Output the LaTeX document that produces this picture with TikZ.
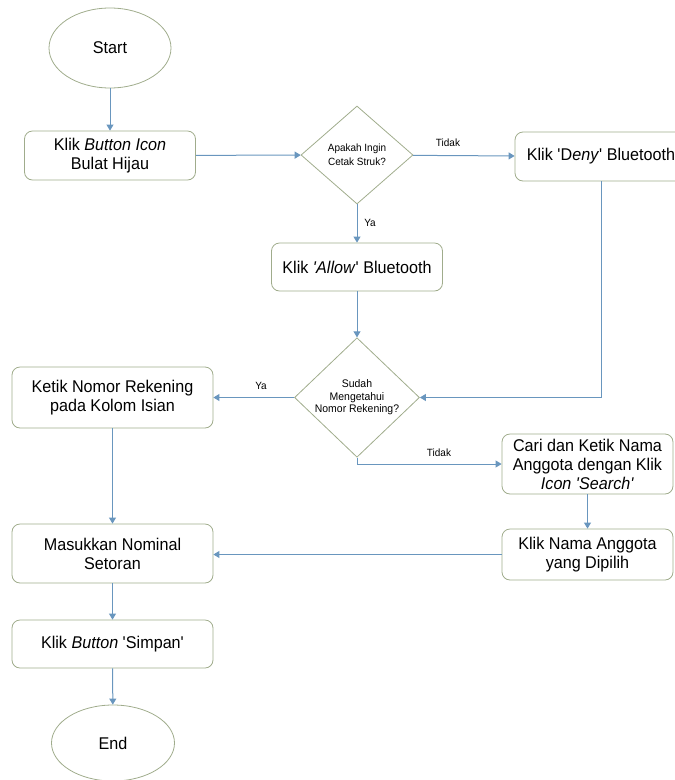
\documentclass[tikz,border=0pt]{standalone}
\usepackage{fontspec}
\setmainfont{Liberation Sans}[FakeStretch=0.95]
\usetikzlibrary{shapes.geometric,arrows.meta}
\definecolor{edge}{RGB}{160,172,140}
\definecolor{flow}{RGB}{105,150,190}
\newcommand\sq{\textquotesingle}
\begin{document}
\begin{tikzpicture}[x=1pt,y=-1pt,
    box/.style={draw=edge,line width=0.8pt,rounded corners=8pt,align=center,inner sep=0pt,
      font=\fontsize{17}{19}\selectfont},
    term/.style={draw=edge,line width=0.8pt,ellipse,inner sep=0pt,font=\fontsize{17}{19}\selectfont},
    decision/.style={draw=edge,line width=0.8pt,diamond,inner sep=0pt,align=center,
      font=\fontsize{10.5}{14}\selectfont},
    lbl/.style={font=\fontsize{10.5}{12}\selectfont},
    flowline/.style={draw=flow,line width=1pt,-{Triangle[length=6pt,width=7pt]}}]
      \useasboundingbox (0,0) rectangle (675,780);
      \clip (0,0) rectangle (675,780);
      \draw
        (110,48) node[term,minimum width=122pt,minimum height=80pt] (start){Start}
        (110,155.5) node[box,minimum width=171pt,minimum height=49pt] (bulat){Klik \textit{Button Icon}\\Bulat Hijau}
        (357,155) node[decision,minimum width=112pt,minimum height=98pt] (cetak){Apakah Ingin\\Cetak Struk?}
        (601,156.5) node[box,minimum width=172pt,minimum height=49pt] (deny){Klik \sq D\textit{eny}\sq{} Bluetooth}
        (357,267) node[box,minimum width=171pt,minimum height=48pt] (allow){Klik \textit{\sq Allow}\sq{} Bluetooth}
        (357,397.5) node[decision,minimum width=125pt,minimum height=115pt,
          font=\fontsize{11}{12.5}\selectfont] (tahu){Sudah\\Mengetahui\\Nomor Rekening?}
        (112.5,397.5) node[box,minimum width=201pt,minimum height=61pt] (ketik){Ketik Nomor Rekening\\pada Kolom Isian}
        (587.5,464) node[box,minimum width=171pt,minimum height=60pt] (cari){Cari dan Ketik Nama\\Anggota dengan Klik\\\textit{Icon \sq Search\sq}}
        (587.5,554.5) node[box,minimum width=171pt,minimum height=51pt] (nama){Klik Nama Anggota\\yang Dipilih}
        (112.5,553.5) node[box,minimum width=201pt,minimum height=59pt] (nominal){Masukkan Nominal\\Setoran}
        (112.5,644) node[box,minimum width=201pt,minimum height=48pt] (simpan){Klik \textit{Button} \sq Simpan\sq}
        (113,743) node[term,minimum width=123pt,minimum height=76pt] (end){End};
      \begin{scope}[flowline]
        \draw (start) to (bulat);
        \draw (bulat) to (cetak);
        \draw (cetak) to (deny);
        \draw (cetak) to (allow);
        \draw (allow) to (tahu);
        \draw (deny.south) |- (tahu.east);
        \draw (tahu) to (ketik);
        \draw (tahu.south) |- (cari.west);
        \draw (ketik) to (nominal);
        \draw (cari) to (nama);
        \draw (nama.west) to (nominal.east |- nama.west);
        \draw (nominal) to (simpan);
        \draw (simpan) to (end);
      \end{scope}
      \path
        (448,143) node[lbl] (tidak1){Tidak}
        (370,223) node[lbl] (ya1){Ya}
        (261,386) node[lbl] (ya2){Ya}
        (439,453) node[lbl] (tidak2){Tidak};
    \end{tikzpicture}
\end{document}
